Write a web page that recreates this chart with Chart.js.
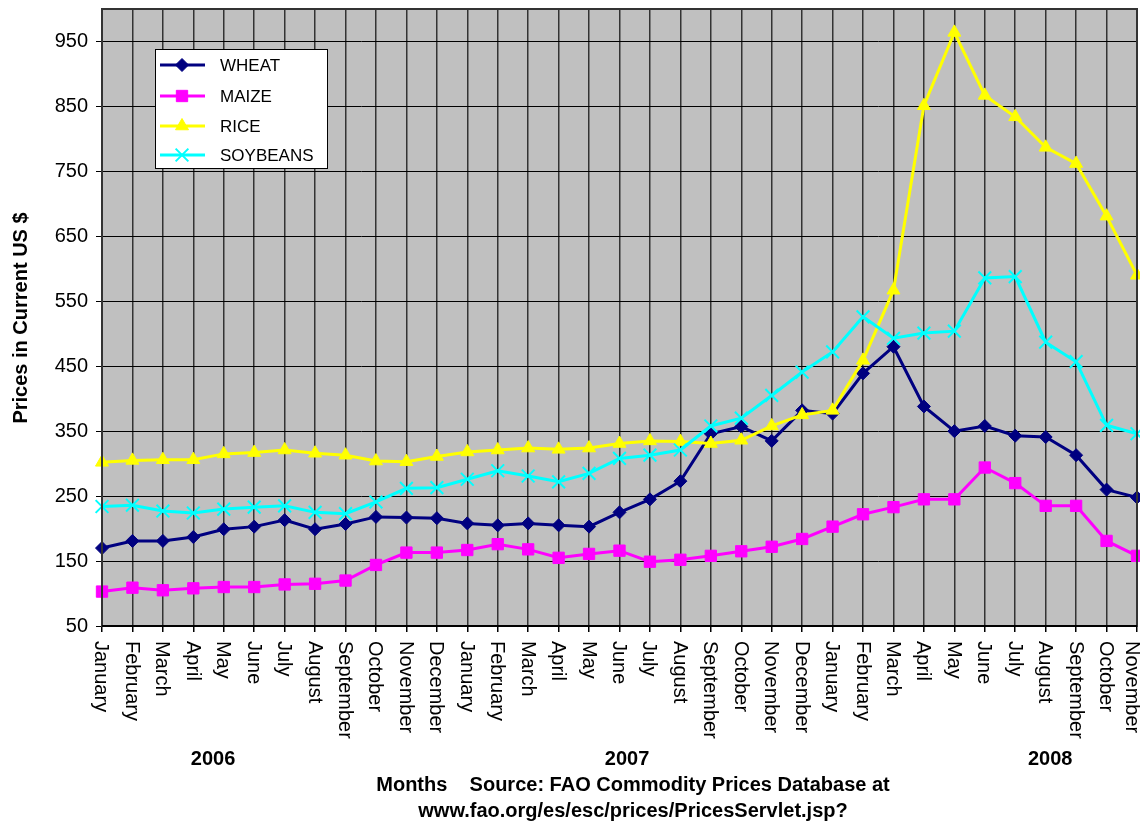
<!DOCTYPE html>
<html>
<head>
<meta charset="utf-8">
<script src="https://cdn.jsdelivr.net/npm/chart.js@4/dist/chart.umd.min.js"></script>
<style>
  html, body { margin: 0; padding: 0; background: #fff; }
  #wrap { width: 1140px; height: 822px; position: relative; }
</style>
</head>
<body>
<div id="wrap"><canvas id="prices_chart"></canvas></div>
<script>
const months = ['January', 'February', 'March', 'April', 'May', 'June', 'July', 'August',
    'September', 'October', 'November', 'December',
    'January', 'February', 'March', 'April', 'May', 'June', 'July', 'August',
    'September', 'October', 'November', 'December',
    'January', 'February', 'March', 'April', 'May', 'June', 'July', 'August',
    'September', 'October', 'November'];
const years = ['2006', '2007', '2008'];

const wheat = [170, 181, 181, 187, 199, 203, 213, 199, 207, 218, 217, 216,
    208, 205, 208, 205, 203, 225, 245, 273, 346, 357, 335, 382,
    377, 439, 480, 388, 350, 358, 343, 341, 313, 260, 248];
const maize = [103, 109, 105, 108, 110, 110, 114, 115, 120, 144, 163, 163,
    167, 176, 168, 155, 161, 166, 149, 152, 158, 165, 172, 184,
    203, 222, 233, 245, 245, 294, 270, 235, 235, 181, 158];
const rice = [302, 305, 306, 306, 315, 317, 321, 316, 313, 304, 303, 311,
    318, 321, 324, 322, 324, 331, 335, 334, 331, 336, 358, 375,
    382, 459, 567, 851, 964, 867, 834, 787, 762, 681, 590];
const soybeans = [234, 236, 227, 224, 230, 233, 235, 225, 223, 241, 262, 263,
    276, 289, 281, 272, 285, 308, 313, 321, 358, 370, 405, 441,
    472, 526, 493, 501, 504, 586, 588, 487, 457, 359, 346];

const yTicks = [50, 150, 250, 350, 450, 550, 650, 750, 850, 950];

const FONT = "'Liberation Sans', Arial, sans-serif";

const series = [
    {label: 'WHEAT', data: wheat, color: '#000080', pointStyle: 'rectRot', radius: 6.5, order: 4},
    {label: 'MAIZE', data: maize, color: '#FF00FF', pointStyle: 'rect', radius: 8, order: 3},
    {label: 'RICE', data: rice, color: '#FFFF00', pointStyle: 'triangle', radius: 7.5, order: 2},
    {label: 'SOYBEANS', data: soybeans, color: '#00FFFF', pointStyle: 'crossRot', radius: 9, order: 1}
];

const datasets = series.map(s => ({
    label: s.label,
    data: s.data,
    borderColor: s.color,
    backgroundColor: s.color,
    borderWidth: 3,
    pointStyle: s.pointStyle,
    pointRadius: s.radius,
    pointBorderWidth: s.pointStyle === 'crossRot' ? 2 : 1,
    pointBackgroundColor: s.color,
    pointBorderColor: s.color,
    tension: 0,
    order: s.order
}));

// labels, legend and frame drawn by hand
const decorations = {
    id: 'decorations',
    beforeDraw(chart) {
        const {ctx, chartArea} = chart;
        ctx.save();
        ctx.fillStyle = '#C0C0C0';
        ctx.fillRect(chartArea.left, chartArea.top, chartArea.right - chartArea.left, chartArea.bottom - chartArea.top);
        ctx.restore();
    },
    afterDraw(chart) {
        const {ctx, chartArea} = chart;
        const x = chart.scales.x;
        ctx.save();

        // frame
        ctx.strokeStyle = '#333';
        ctx.lineWidth = 2;
        ctx.strokeRect(chartArea.left, chartArea.top, chartArea.right - chartArea.left, chartArea.bottom - chartArea.top);
        ctx.strokeStyle = '#000';
        ctx.beginPath();
        ctx.moveTo(chartArea.left, chartArea.bottom);
        ctx.lineTo(chartArea.right, chartArea.bottom);
        ctx.stroke();

        // month labels, rotated clockwise
        ctx.fillStyle = '#000';
        ctx.font = '20px ' + FONT;
        ctx.textAlign = 'left';
        ctx.textBaseline = 'middle';
        months.forEach((m, i) => {
            ctx.save();
            const px = Math.min(x.getPixelForValue(i) - 1, chart.width - 8);
            ctx.translate(px, chartArea.bottom + 15);
            ctx.rotate(Math.PI / 2);
            ctx.fillText(m, 0, 0);
            ctx.restore();
        });

        // years
        ctx.font = 'bold 20px ' + FONT;
        ctx.textAlign = 'center';
        const yearPos = [3.65, 17.25, 31.15];
        years.forEach((y, i) => {
            ctx.fillText(y, x.getPixelForValue(yearPos[i]), 759);
        });

        // x title
        ctx.fillText('Months    Source: FAO Commodity Prices Database at', 633, 785);
        ctx.fillText('www.fao.org/es/esc/prices/PricesServlet.jsp?', 633, 811);

        // y title
        ctx.save();
        ctx.translate(21, 318);
        ctx.rotate(-Math.PI / 2);
        ctx.fillText('Prices in Current US $', 0, 0);
        ctx.restore();

        // legend
        const lx = 155, ly = 49, lw = 172, lh = 119;
        ctx.fillStyle = '#fff';
        ctx.fillRect(lx, ly, lw, lh);
        ctx.strokeStyle = '#000';
        ctx.lineWidth = 1;
        ctx.strokeRect(lx + 0.5, ly + 0.5, lw, lh);
        const rows = [65, 96, 126, 155];
        series.forEach((s, i) => {
            const ry = rows[i];
            ctx.strokeStyle = s.color;
            ctx.lineWidth = 3;
            ctx.beginPath();
            ctx.moveTo(160, ry);
            ctx.lineTo(205, ry);
            ctx.stroke();
            ctx.fillStyle = s.color;
            ctx.lineWidth = s.pointStyle === 'crossRot' ? 2 : 1;
            Chart.helpers.drawPoint(ctx, {pointStyle: s.pointStyle, radius: s.radius, rotation: 0, borderWidth: ctx.lineWidth}, 182, ry);
            ctx.fillStyle = '#000';
            ctx.font = '17px ' + FONT;
            ctx.textAlign = 'left';
            ctx.textBaseline = 'middle';
            ctx.fillText(s.label, 220, ry + 1);
        });

        ctx.restore();
    }
};

new Chart(document.getElementById('prices_chart').getContext('2d'), {
    type: 'line',
    data: {
        labels: months,
        datasets: datasets
    },
    options: {
        responsive: true,
        maintainAspectRatio: false,
        animation: false,
        layout: {
            autoPadding: false,
            padding: {top: 9, right: 3, left: 0, bottom: 0}
        },
        plugins: {
            legend: {display: false},
            tooltip: {enabled: false},
            title: {display: false}
        },
        scales: {
            x: {
                type: 'category',
                offset: false,
                ticks: {display: false},
                grid: {color: '#333', lineWidth: 1.5, tickLength: 6, drawTicks: true, tickColor: '#000'},
                border: {display: false},
                afterFit(scale) {
                    scale.height = 196;
                    scale.paddingLeft = 0;
                    scale.paddingRight = 0;
                }
            },
            y: {
                min: 50,
                max: 1000,
                afterBuildTicks(scale) {
                    scale.ticks = yTicks.map(v => ({value: v}));
                },
                ticks: {
                    color: '#000',
                    font: {family: FONT, size: 20},
                    padding: 8
                },
                grid: {color: '#000', lineWidth: 1, tickLength: 6, tickColor: '#000'},
                border: {color: '#000', width: 1},
                afterFit(scale) {
                    scale.width = 102;
                    scale.paddingTop = 0;
                    scale.paddingBottom = 0;
                }
            }
        }
    },
    plugins: [decorations]
});
</script>
</body>
</html>
